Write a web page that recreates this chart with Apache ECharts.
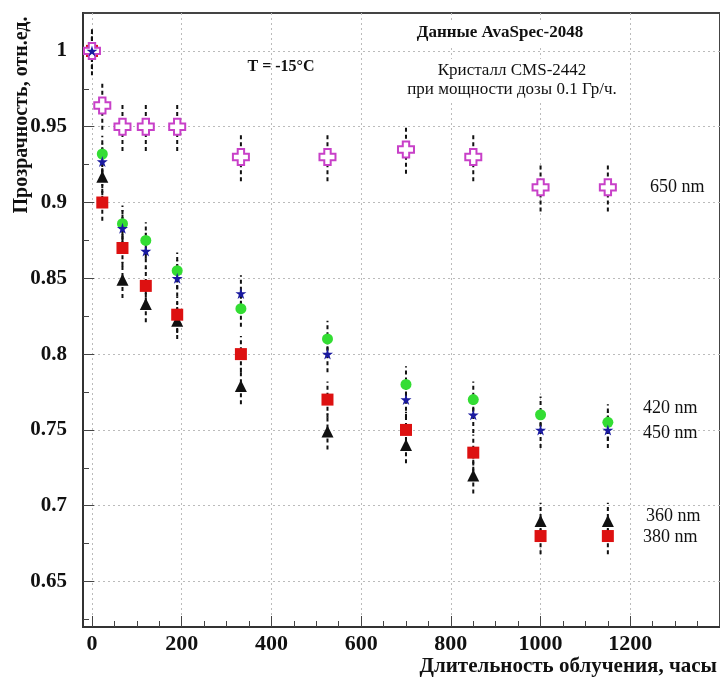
<!DOCTYPE html>
<html>
<head>
<meta charset="utf-8">
<script src="https://cdn.jsdelivr.net/npm/echarts@6/dist/echarts.min.js"></script>
<style>
  html, body { margin: 0; padding: 0; background: #fff; }
  #chart { width: 720px; height: 678px; }
</style>
</head>
<body>
<div id="chart"></div>
<script>
// время облучения, часы
var hours = [0, 23, 68, 120, 190, 332, 525, 700, 850, 1000, 1150];
// прозрачность по длинам волн
var t650 = [1.0, 0.964, 0.95, 0.95, 0.95, 0.93, 0.93, 0.935, 0.93, 0.91, 0.91];
var t420 = [1.0, 0.932, 0.886, 0.875, 0.855, 0.83, 0.81, 0.78, 0.77, 0.76, 0.755];
var t450 = [1.0, 0.927, 0.883, 0.868, 0.85, 0.84, 0.80, 0.77, 0.76, 0.75, 0.75];
var t360 = [1.0, 0.917, 0.849, 0.833, 0.822, 0.779, 0.749, 0.74, 0.72, 0.69, 0.69];
var t380 = [1.0, 0.90, 0.87, 0.845, 0.826, 0.80, 0.77, 0.75, 0.735, 0.68, 0.68];
// погрешности
var err650 = 0.016;
var errUv = 0.012;
// подписи осей
var xTicks = [0, 200, 400, 600, 800, 1000, 1200];
var yTicks = [0.65, 0.7, 0.75, 0.8, 0.85, 0.9, 0.95, 1];

var FONT = "'Liberation Serif', 'DejaVu Serif', serif";

var xMinor = [];
for (var i = 50; i <= 1350; i += 50) { if (i % 200 != 0) xMinor.push(i) }
var yMinor = [];
for (var k = 0; k < 17; k++) {
  var v = Math.round((0.625 + k * 0.025) * 1000) / 1000
  if (Math.round(v * 1000) % 50 != 0) yMinor.push(v)
}

function pairs(vals) {
  return hours.map(function (h, i) { return [h, vals[i]] })
}

// вертикальные пунктирные погрешности
function errBars(vals, e) {
  return {
    type: 'custom',
    silent: true,
    z: 1,
    data: hours.map(function (h, i) { return [h, vals[i] - e, vals[i] + e] }),
    encode: { x: 0, y: [1, 2] },
    renderItem: function (params, api) {
      var lo = api.coord([api.value(0), api.value(1)])
      var hi = api.coord([api.value(0), api.value(2)])
      return {
        type: 'line',
        shape: { x1: lo[0], y1: lo[1], x2: hi[0], y2: hi[1] },
        style: { stroke: '#111', lineWidth: 2, lineDash: [4, 3] }
      }
    }
  }
}

var crossPath = 'path://M3,0 H7 V3 H10 V7 H7 V10 H3 V7 H0 V3 H3 Z'
var starPath = 'path://M50,0 L61,35 L98,35 L68,57 L79,91 L50,70 L21,91 L32,57 L2,35 L39,35 Z'

var myChart = echarts.init(document.getElementById('chart'))
myChart.setOption({
  animation: false,
  backgroundColor: '#fff',
  grid: {
    left: 83, top: 13, right: -14, bottom: 51,
    show: true, borderColor: '#444', borderWidth: 2, backgroundColor: 'transparent'
  },
  xAxis: [
    {
      type: 'value', min: -20, max: 1400,
      axisLine: { show: true, onZero: false, lineStyle: { color: '#333', width: 2 } },
      axisTick: { show: true, inside: true, length: 11, customValues: xTicks, lineStyle: { color: '#444' } },
      axisLabel: {
        customValues: xTicks, margin: 6, color: '#111', fontFamily: FONT, fontWeight: 'bold', fontSize: 22,
        formatter: function (v) { return String(v) }
      },
      splitLine: { show: true, lineStyle: { color: '#bbb', type: [2, 3], width: 1 } }
    },
    {
      type: 'value', min: -20, max: 1400, position: 'bottom',
      axisLine: { show: false, onZero: false },
      axisTick: { show: true, inside: true, length: 6, customValues: xMinor, lineStyle: { color: '#444' } },
      axisLabel: { show: false },
      splitLine: { show: false }
    }
  ],
  yAxis: [
    {
      type: 'value', min: 0.62, max: 1.025,
      axisLine: { show: true, onZero: false, lineStyle: { color: '#333', width: 2 } },
      axisTick: { show: true, inside: true, length: 11, customValues: yTicks, lineStyle: { color: '#444' } },
      axisLabel: {
        customValues: yTicks, margin: 16, color: '#111', fontFamily: FONT, fontWeight: 'bold', fontSize: 21,
        formatter: function (v) { return String(v) }
      },
      splitLine: { show: true, lineStyle: { color: '#bbb', type: [2, 3], width: 1 } }
    },
    {
      type: 'value', min: 0.62, max: 1.025, position: 'left',
      axisLine: { show: false, onZero: false },
      axisTick: { show: true, inside: true, length: 6, customValues: yMinor, lineStyle: { color: '#444' } },
      axisLabel: { show: false },
      splitLine: { show: false }
    }
  ],
  series: [
    errBars(t650, err650),
    errBars(t420, errUv),
    errBars(t450, errUv),
    errBars(t360, errUv),
    errBars(t380, errUv),
    {
      name: '420 nm', type: 'scatter', data: pairs(t420), z: 3,
      symbol: 'circle', symbolSize: 11,
      itemStyle: { color: '#33dd33', opacity: 1 }
    },
    {
      name: '360 nm', type: 'scatter', data: pairs(t360), z: 3,
      symbol: 'triangle', symbolSize: 12,
      itemStyle: { color: '#111', opacity: 1 }
    },
    {
      name: '380 nm', type: 'scatter', data: pairs(t380), z: 3,
      symbol: 'rect', symbolSize: 12,
      itemStyle: { color: '#dd1111', opacity: 1 }
    },
    {
      name: '650 nm', type: 'scatter', data: pairs(t650), z: 3,
      symbol: crossPath, symbolSize: 16,
      itemStyle: { color: '#fff', borderColor: '#c840c8', borderWidth: 2, opacity: 1 }
    },
    {
      name: '450 nm', type: 'scatter', data: pairs(t450), z: 3,
      symbol: starPath, symbolSize: 11,
      itemStyle: { color: '#1a1aa0', opacity: 1 }
    }
  ],
  graphic: [
    {
      type: 'text', x: 22, y: 115, rotation: Math.PI / 2,
      style: { text: 'Прозрачность, отн.ед.', font: 'bold 20px ' + FONT, fill: '#111', align: 'center', verticalAlign: 'middle' }
    },
    {
      type: 'text', x: 717, y: 667,
      style: { text: 'Длительность облучения, часы', font: 'bold 21px ' + FONT, fill: '#111', align: 'right', verticalAlign: 'middle' }
    },
    {
      type: 'text', x: 500, y: 33, z: 50,
      style: { text: 'Данные AvaSpec-2048', font: 'bold 17px ' + FONT, fill: '#111', align: 'center', verticalAlign: 'middle', backgroundColor: '#fff', padding: [4, 8] }
    },
    {
      type: 'text', x: 512, y: 80, z: 50,
      style: { text: 'Кристалл CMS-2442\nпри мощности дозы 0.1 Гр/ч.', font: '17px ' + FONT, lineHeight: 19, fill: '#111', align: 'center', verticalAlign: 'middle', backgroundColor: '#fff', padding: [2, 4] }
    },
    {
      type: 'text', x: 281, y: 67, z: 50,
      style: { text: 'T = -15°C', font: 'bold 16px ' + FONT, fill: '#111', align: 'center', verticalAlign: 'middle' }
    },
    {
      type: 'text', x: 646, y: 187, z: 50,
      style: { text: '650 nm', font: '18px ' + FONT, fill: '#111', align: 'left', verticalAlign: 'middle', backgroundColor: '#fff', padding: [3, 4] }
    },
    {
      type: 'text', x: 643, y: 408, z: 50,
      style: { text: '420 nm', font: '18px ' + FONT, fill: '#111', align: 'left', verticalAlign: 'middle' }
    },
    {
      type: 'text', x: 643, y: 433, z: 50,
      style: { text: '450 nm', font: '18px ' + FONT, fill: '#111', align: 'left', verticalAlign: 'middle' }
    },
    {
      type: 'text', x: 646, y: 516, z: 50,
      style: { text: '360 nm', font: '18px ' + FONT, fill: '#111', align: 'left', verticalAlign: 'middle' }
    },
    {
      type: 'text', x: 643, y: 537, z: 50,
      style: { text: '380 nm', font: '18px ' + FONT, fill: '#111', align: 'left', verticalAlign: 'middle' }
    }
  ]
})
</script>
</body>
</html>
